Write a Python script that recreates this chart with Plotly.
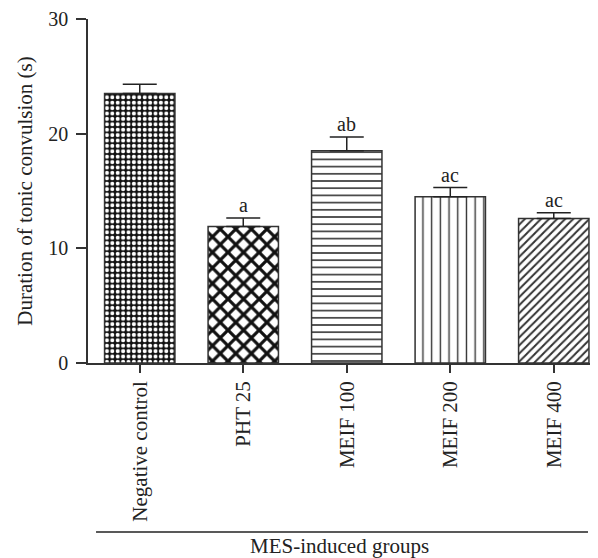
import plotly.graph_objects as go

groups = ["Negative control", "PHT 25", "MEIF 100", "MEIF 200", "MEIF 400"]
means = [23.5, 11.9, 18.5, 14.5, 12.6]
sem = [0.8, 0.75, 1.2, 0.8, 0.5]
sig = ["", "a", "ab", "ac", "ac"]
y_ticks = [0, 10, 20, 30]

FONT = "Liberation Serif"
patterns = [
    dict(shape=".", bgcolor="#111111", fgcolor="#ffffff", size=5.4, solidity=0.45, fillmode="replace"),
    dict(shape="x", bgcolor="#ffffff", fgcolor="#111111", size=11, solidity=0.5, fillmode="replace"),
    dict(shape="-", bgcolor="#ffffff", fgcolor="#333333", size=7.2, solidity=0.22, fillmode="replace"),
    dict(shape="|", bgcolor="#ffffff", fgcolor="#333333", size=8.7, solidity=0.16, fillmode="replace"),
    dict(shape="/", bgcolor="#ffffff", fgcolor="#333333", size=5.7, solidity=0.35, fillmode="replace"),
]

fig = go.Figure()
for i, g in enumerate(groups):
    fig.add_trace(go.Bar(
        x=[g], y=[means[i]],
        width=0.68,
        marker=dict(color="white", pattern=patterns[i], line=dict(color="#333333", width=1.5)),
        error_y=dict(type="data", array=[sem[i]], arrayminus=[0], symmetric=False,
                     color="#222222", thickness=1.5, width=17),
        showlegend=False,
    ))
    if sig[i]:
        fig.add_annotation(x=g, y=means[i] + sem[i], text=sig[i], showarrow=False,
                           yanchor="bottom", yshift=0, font=dict(family=FONT, size=20, color="#222"))

fig.add_shape(type="line", xref="paper", yref="paper", x0=0.016, x1=0.996, y0=-0.4913, y1=-0.4913,
              line=dict(color="#222222", width=1.5))
fig.add_annotation(xref="paper", yref="paper", x=0.5, y=-0.532, yanchor="middle", showarrow=False,
                   text="MES-induced groups", font=dict(family=FONT, size=21, color="#222"))

fig.update_layout(
    width=598, height=558,
    margin=dict(l=88, r=8, t=19, b=195),
    plot_bgcolor="white", paper_bgcolor="white",
    font=dict(family=FONT, size=20, color="#222222"),
)
fig.update_xaxes(range=[-0.5, 4.35], showline=True, linecolor="#333333", linewidth=1.5,
                 ticks="outside", ticklen=8, tickwidth=1.5, tickcolor="#333333",
                 tickangle=-90, tickfont=dict(family=FONT, size=21), showgrid=False, automargin=False)
fig.update_yaxes(range=[0, 30], tickvals=y_ticks, showline=True, linecolor="#333333", linewidth=1.5,
                 ticks="outside", ticklen=10, tickwidth=1.5, tickcolor="#333333", ticklabelstandoff=4,
                 showgrid=False, zeroline=False, tickfont=dict(family=FONT, size=20), automargin=False,
                 title=dict(text="Duration of tonic convulsion (s)", font=dict(family=FONT, size=21), standoff=10))

fig.write_html("out.html", config={"displayModeBar": False},
               post_script="document.body.style.margin='0';")
